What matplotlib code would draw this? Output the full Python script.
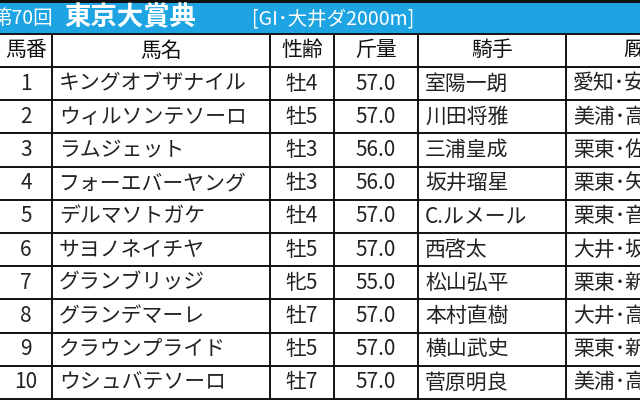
import matplotlib
matplotlib.use('Agg')
import matplotlib.pyplot as plt

plt.rcParams['font.family'] = ['Noto Sans CJK JP', 'DejaVu Sans']

title_round = '第70回'
title_race = '東京大賞典'
title_info = '[GI･大井ダ2000m]'

headers = ['馬番', '馬名', '性齢', '斤量', '騎手', '厩舎']
numbers = ['1', '2', '3', '4', '5', '6', '7', '8', '9', '10']
horses = ['キングオブザナイル', 'ウィルソンテソーロ', 'ラムジェット', 'フォーエバーヤング',
          'デルマソトガケ', 'サヨノネイチヤ', 'グランブリッジ', 'グランデマーレ',
          'クラウンプライド', 'ウシュバテソーロ']
sex_age = ['牡4', '牡5', '牡3', '牡3', '牡4', '牡5', '牝5', '牡7', '牡5', '牡7']
weights = ['57.0', '57.0', '56.0', '56.0', '57.0', '57.0', '55.0', '57.0', '57.0', '57.0']
jockeys = ['室陽一朗', '川田将雅', '三浦皇成', '坂井瑠星', 'C.ルメール', '西啓太',
           '松山弘平', '本村直樹', '横山武史', '菅原明良']
trainers = ['愛知･安', '美浦･高', '栗東･佐', '栗東･矢', '栗東･音', '大井･坂',
            '栗東･新', '大井･高', '栗東･新', '美浦･高']

col_edges = [0, 52, 270, 334, 418, 566, 722]
top_y, head_y, row_y0, row_h = 3, 34, 67, 33.2

fig = plt.figure(figsize=(6.4, 4.0), dpi=100)
ax = fig.add_axes([0, 0, 1, 1])
ax.set_xlim(0, 640)
ax.set_ylim(400, 0)
ax.axis('off')

ax.add_patch(plt.Rectangle((0, 0), 640, top_y, facecolor='#111111', edgecolor='none'))
ax.add_patch(plt.Rectangle((0, top_y), 640, head_y - top_y, facecolor='#1ea4e2', edgecolor='none'))
ax.text(-8, 19, title_round, color='white', fontsize=14, va='center', ha='left')
ax.text(64, 18, title_race, color='white', fontsize=19, va='center', ha='left', fontweight='bold')
ax.text(252, 19, title_info, color='white', fontsize=14, va='center', ha='left')

columns = [numbers, horses, sex_age, weights, jockeys, trainers]
aligns = ['center', 'left', 'center', 'center', 'left', 'left']

n_rows = len(numbers)
bottom = row_y0 + n_rows * row_h
ax.add_patch(plt.Rectangle((0, head_y), 640, bottom - head_y, facecolor='white', edgecolor='none'))

# header
for c, h in enumerate(headers):
    xc = (col_edges[c] + col_edges[c + 1]) / 2
    ax.text(xc, (head_y + row_y0) / 2, h, fontsize=15, ha='center', va='center', color='#111111')

for r in range(n_rows):
    yc = row_y0 + (r + 0.5) * row_h
    for c, col in enumerate(columns):
        if aligns[c] == 'center':
            x = (col_edges[c] + col_edges[c + 1]) / 2
        else:
            x = col_edges[c] + 7
        ax.text(x, yc, col[r], fontsize=15, ha=aligns[c], va='center', color='#222222')

# grid lines
for y in [head_y, row_y0] + [row_y0 + (r + 1) * row_h for r in range(n_rows)]:
    ax.plot([0, 640], [y, y], color='#111111', lw=1.4)
for x in col_edges[1:-1]:
    ax.plot([x, x], [head_y, bottom], color='#111111', lw=1.4)

fig.savefig('out.png', dpi=100, facecolor='white')
